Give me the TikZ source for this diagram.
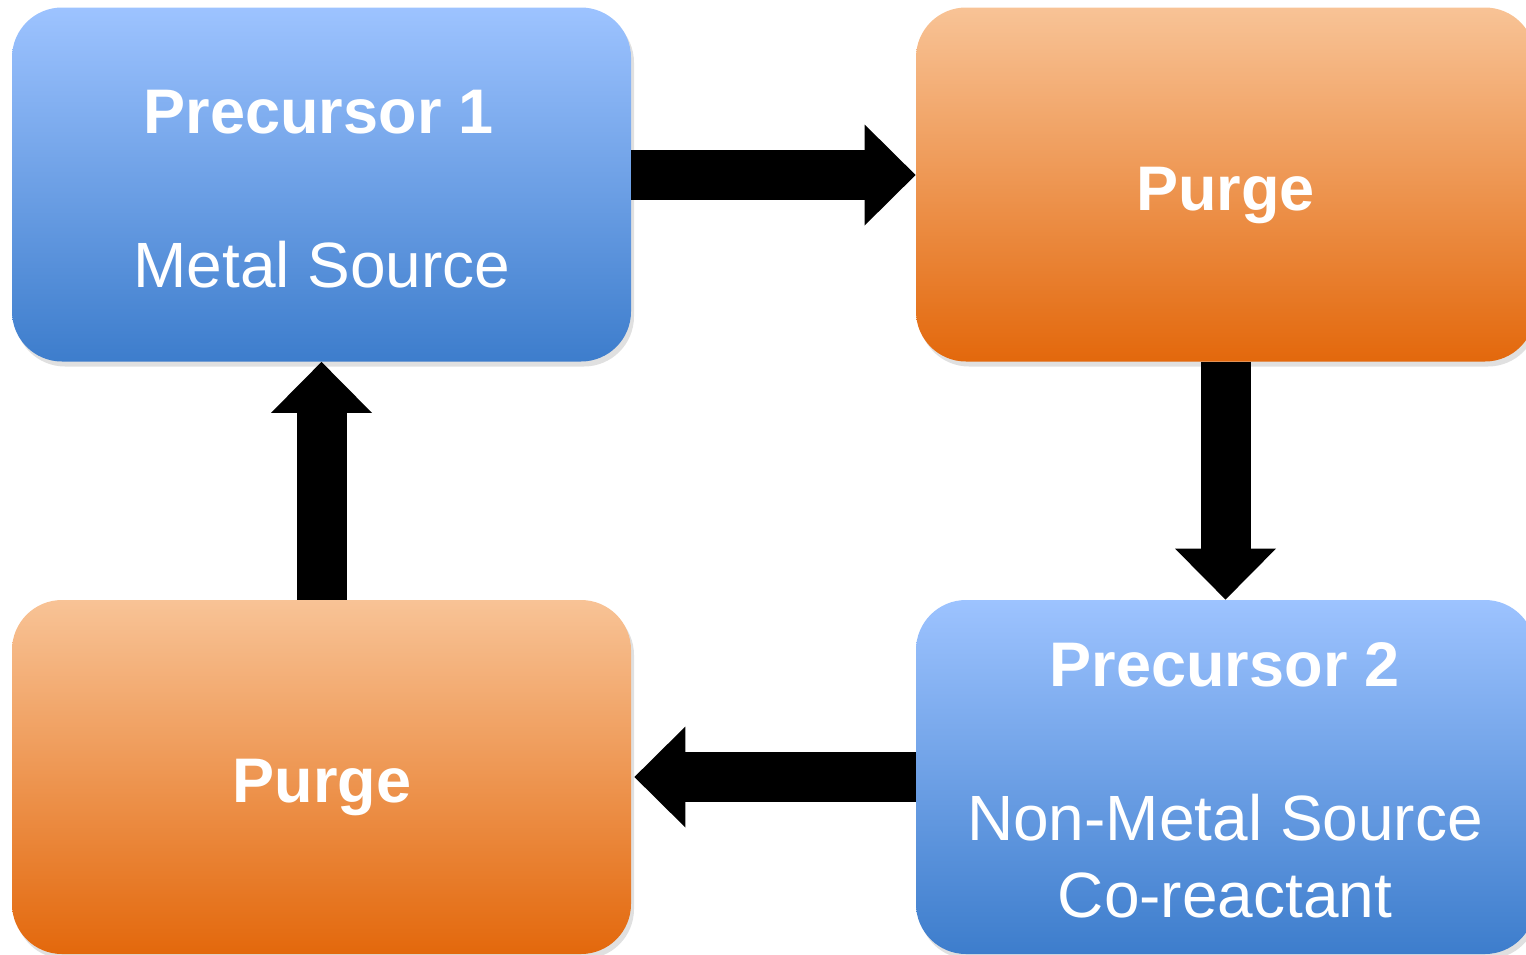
\documentclass[tikz,border=0pt]{standalone}
\usepackage{fontspec}
\setmainfont{Liberation Sans}
\usetikzlibrary{arrows.meta,shadows}
\definecolor{bluetop}{RGB}{157,195,255}
\definecolor{bluebot}{RGB}{61,125,204}
\definecolor{orgtop}{RGB}{248,195,150}
\definecolor{orgbot}{RGB}{227,104,12}
\tikzset{
  box/.style={draw=none, rounded corners=25pt, minimum width=309.5pt, minimum height=177pt,
    inner sep=0pt, drop shadow={shadow xshift=1.5pt, shadow yshift=-2.5pt, opacity=0.2, fill=black!60}},
  bluebox/.style={box, top color=bluetop, bottom color=bluebot},
  orangebox/.style={box, top color=orgtop, bottom color=orgbot},
  label/.style={text=white, inner sep=0pt, anchor=base, font=\fontsize{32}{38}\selectfont},
  boldlabel/.style={label, font=\fontsize{31.5}{38}\selectfont\bfseries},
  blockarrow/.style={line width=25pt, draw=black,
    -{Triangle[length=25.5pt, width=50.5pt, line width=0pt]}}
}
\begin{document}
\begin{tikzpicture}[x=0.5pt, y=-0.5pt]
\useasboundingbox (0,0) rectangle (1526,954);
\node[bluebox] (p1) at (321.5,184.5) {};
\node[orangebox] (pu1) at (1225.5,184.5) {};
\node[orangebox] (pu2) at (321.5,777) {};
\node[bluebox] (p2) at (1225.5,777) {};

\node[boldlabel] (t1) at (319,133) {Precursor 1};
\node[label] (t2) at (322,287) {Metal Source};
\node[boldlabel] (t3) at (1225.5,210) {Purge};
\node[boldlabel] (t4) at (322,802) {Purge};
\node[boldlabel] (t5) at (1225,686) {Precursor 2};
\node[label] (t6) at (1225,840) {Non-Metal Source};
\node[label] (t7) at (1225,917) {Co-reactant};

\draw[blockarrow] ([yshift=4.75pt]p1.east) -- ([yshift=4.75pt]pu1.west);
\draw[blockarrow] (pu1.south) -- (p2.north);
\draw[blockarrow] (p2.west) -- ([xshift=1.5pt]pu2.east);
\draw[blockarrow] (pu2.north) -- (p1.south);
\end{tikzpicture}
\end{document}
